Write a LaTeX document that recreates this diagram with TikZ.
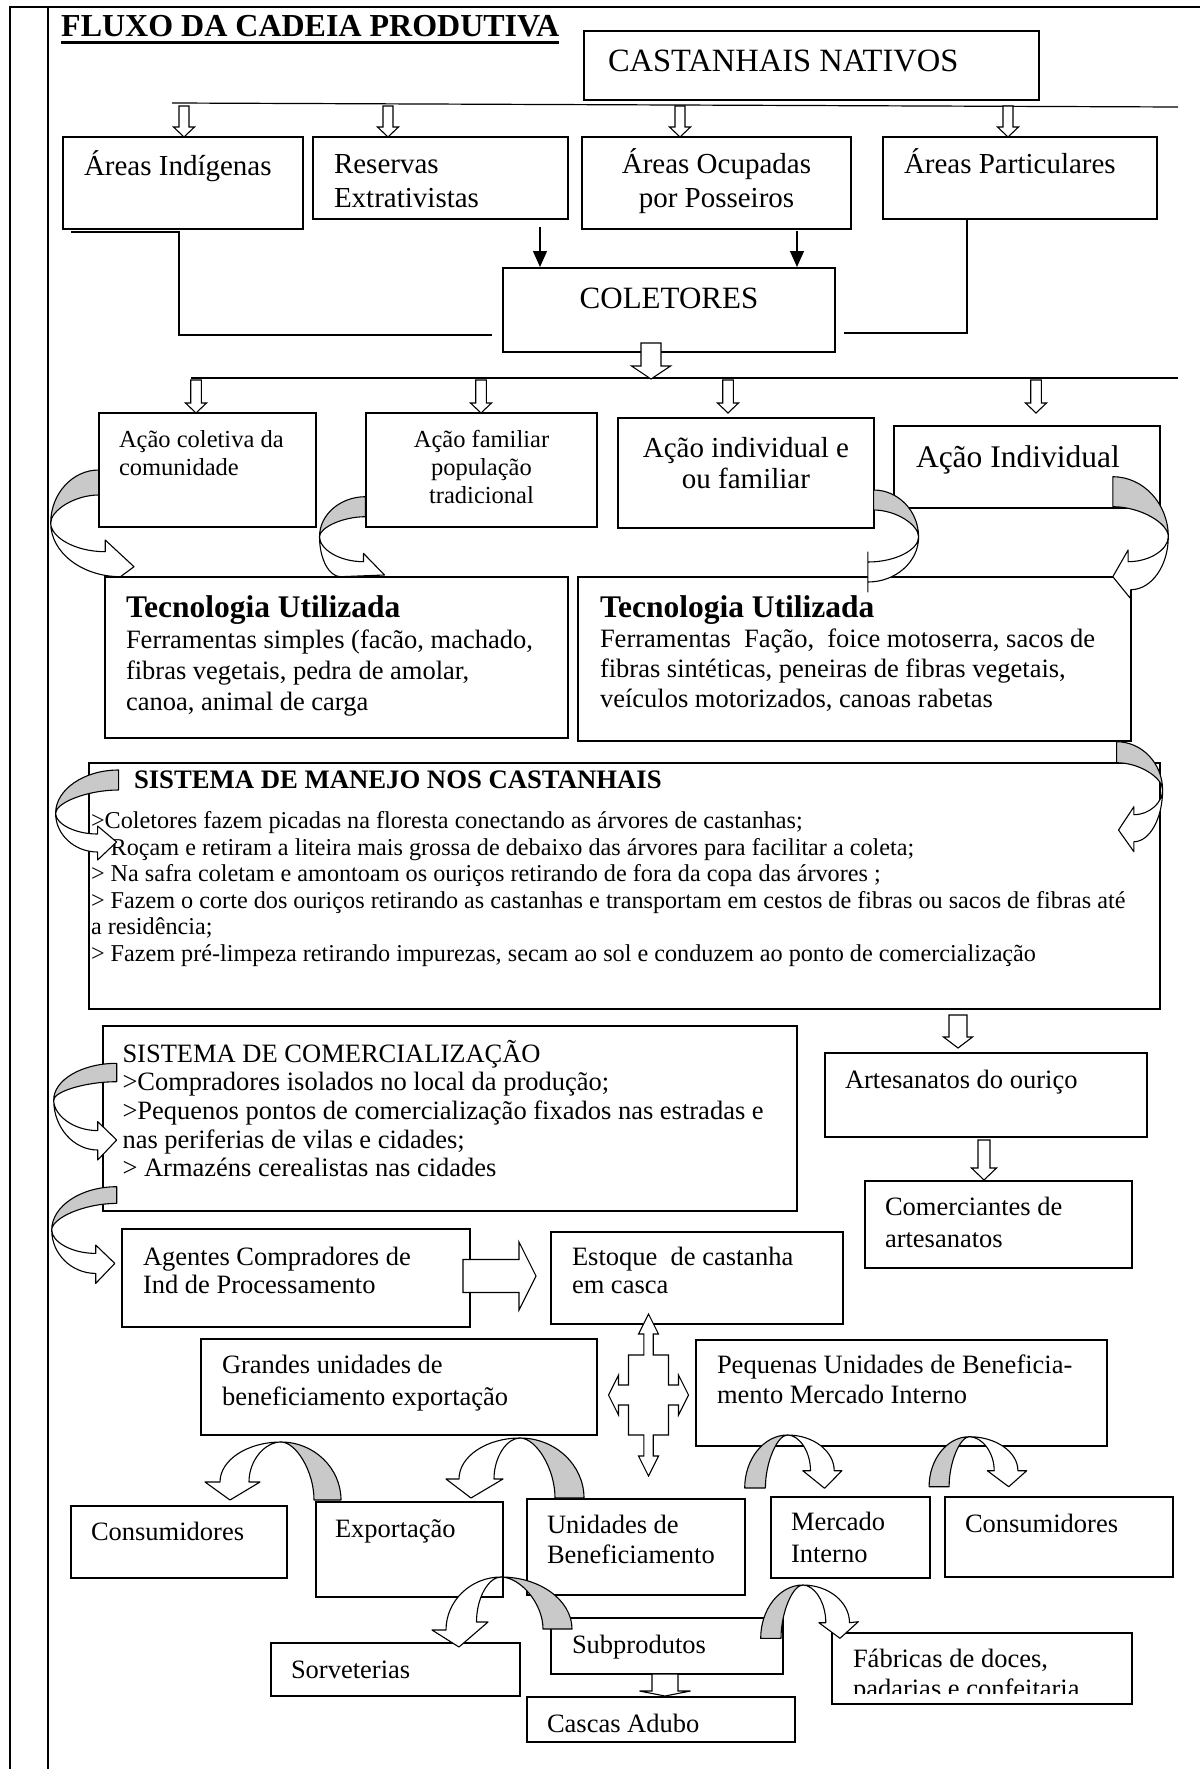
\documentclass[tikz,border=0pt]{standalone}
\usepackage{fontspec}
\setmainfont{Liberation Serif}
\usetikzlibrary{arrows.meta,positioning,calc}
\tikzset{
  cbox/.style={draw, fill=white, line width=1.1pt, inner sep=0pt, outer sep=0pt, anchor=north west},
  big/.style={font=\fontsize{31}{36}\selectfont},
  mid/.style={font=\fontsize{29}{34.5}\selectfont},
  std/.style={font=\fontsize{26.5}{30.5}\selectfont},
  sml/.style={font=\fontsize{24.5}{28}\selectfont},
  conn/.style={line width=1.2pt},
  blk/.style={-{Triangle[length=16pt,width=14pt]}, line width=1.2pt},
  hollow/.style={draw, fill=white, line width=1.1pt, line join=miter},
  curvfront/.style={draw, fill=white, line width=1.1pt, line join=round},
  curvback/.style={draw, fill=gray!42, line width=1.1pt, line join=round},
  tabline/.style={line width=1.8pt}
}

% text in a box: [alignment]{width}{height}{left skip}{first baseline}{text}
\newcommand{\inbox}[6][\raggedright]{%
  \parbox[t][#3][t]{#2}{#1\leftskip=#4\relax\rule{0pt}{#5}#6}}
% hollow block arrow pointing down from (0,0)
\newcommand{\hollowarr}[5][]{%
  \path[hollow,#1] ({-#3},0) -- (#3,0) -- (#3,{#2-#5}) -- (#4,{#2-#5}) -- (0,#2)
    -- ({-#4},{#2-#5}) -- ({-#3},{#2-#5}) -- cycle;}
% curved ribbon arrow: bend point, outer end, inner end, band width, head
\newcommand{\curvearr}[9]{%
  \begin{scope}[#1]
    \path[curvfront] (#2,#3) .. controls +(0,{0.55*((#5)-(#3))}) and +({0.55*((#2)-(#4))},0) .. (#4,#5)
      -- #9 -- (#6,#7) .. controls +({0.55*((#2)-(#6))},0) and +(0,{0.5*((#7)-(#3))}) .. (#2,#3) -- cycle;
    \path[curvback] (0,0) .. controls +({0.55*(#2)},0) and +(0,{-0.55*(#3)}) .. (#2,#3)
      .. controls +(0,{-0.45*((#3)-(#8))}) and +({0.5*(#2)},0) .. (0,#8) -- cycle;
  \end{scope}}
\newcommand{\ulbold}[1]{\setbox0\hbox{#1}\rlap{\rule[-6.8pt]{\wd0}{3pt}}\box0}

\begin{document}
\begin{tikzpicture}[x=1pt,y=-1pt]
  \fill[white] (0,0) rectangle (1200,1769);
  \useasboundingbox (0,0) rectangle (1200,1769);

  % frame
  \draw[tabline] (9.6,1769) -- (9.6,6.7) -- (1200,6.7);
  \draw[tabline] (47.8,6.7) -- (47.8,1769);

  \node[anchor=base west, inner sep=0pt, font=\fontsize{32}{38}\selectfont\bfseries] (title)
    at (61,37) {\ulbold{FLUXO DA CADEIA PRODUTIVA}};

  % top part
  \node[cbox, font=\fontsize{32.5}{36}\selectfont] (castanhais) at (584,31)
    {\inbox{455pt}{69pt}{24pt}{40pt}{CASTANHAIS NATIVOS}};
  \node[cbox, mid] (indig) at (63,137)
    {\inbox{240pt}{92pt}{21pt}{38pt}{Áreas Indígenas}};
  \node[cbox, mid] (reservas) at (313,137)
    {\inbox{255pt}{82pt}{21pt}{36pt}{Reservas\\Extrativistas}};
  \node[cbox, mid] (ocupadas) at (582,137)
    {\inbox[\centering]{269pt}{92pt}{0pt plus 1fil}{36pt}{Áreas Ocupadas\\por Posseiros}};
  \node[cbox, mid] (particulares) at (883,137)
    {\inbox{274pt}{82pt}{21pt}{36pt}{Áreas Particulares}};
  \node[cbox, big] (coletores) at (503,268)
    {\inbox[\centering]{332pt}{84pt}{0pt plus 1fil}{40pt}{COLETORES}};

  \node[cbox, sml] (coletiva) at (99,413)
    {\inbox{217pt}{114pt}{20pt}{34pt}{Ação coletiva da\\comunidade}};
  \node[cbox, sml] (familiar) at (366,413)
    {\inbox[\centering]{231pt}{114pt}{0pt plus 1fil}{34pt}{Ação familiar\\população\\tradicional}};
  \node[cbox, font=\fontsize{29}{31}\selectfont] (indfam) at (618,418)
    {\inbox[\centering]{256pt}{110pt}{0pt plus 1fil}{39pt}{Ação individual e\\ou familiar}};
  \node[cbox, font=\fontsize{31.5}{36}\selectfont] (individual) at (894,426)
    {\inbox{266pt}{82pt}{22pt}{41pt}{Ação Individual}};

  \node[cbox, font=\fontsize{26.5}{31}\selectfont] (tecL) at (105,577)
    {\inbox{463pt}{161pt}{21pt}{40pt}{{\fontsize{31.5}{31}\selectfont\bfseries Tecnologia Utilizada}\\
     Ferramentas simples (facão, machado,\\fibras vegetais, pedra de amolar,\\canoa, animal de carga}};
  \node[cbox, font=\fontsize{26.5}{30}\selectfont] (tecR) at (578,577)
    {\inbox{553pt}{164pt}{22pt}{40pt}{{\fontsize{31.5}{31}\selectfont\bfseries Tecnologia Utilizada}\\
     Ferramentas\ \ Fação,\ \ foice motoserra, sacos de\\fibras sintéticas, peneiras de fibras vegetais,\\veículos motorizados, canoas rabetas}};

  \node[cbox, font=\fontsize{24.2}{26.5}\selectfont] (manejo) at (89,763)
    {\inbox{1071pt}{246pt}{2pt}{25pt}{{\fontsize{26.7}{26.7}\selectfont\bfseries\hspace*{43pt}SISTEMA DE MANEJO NOS CASTANHAIS}\\[14pt]
     >Coletores fazem picadas na floresta conectando as árvores de castanhas;\\
     \hspace*{6pt}>Roçam e retiram a liteira mais grossa de debaixo das árvores para facilitar a coleta;\\
     > Na safra coletam e amontoam os ouriços retirando de fora da copa das árvores ;\\
     > Fazem o corte dos ouriços retirando as castanhas e transportam em cestos de fibras ou sacos de fibras até\\
     a residência;\\
     > Fazem pré-limpeza retirando impurezas, secam ao sol e conduzem ao ponto de comercialização}};

  % lower part
  \node[cbox, font=\fontsize{26.5}{28.7}\selectfont] (comerc) at (103,1026)
    {\inbox{694pt}{185pt}{19.5pt}{36pt}{SISTEMA DE COMERCIALIZAÇÃO\\
     >Compradores isolados no local da produção;\\
     >Pequenos pontos de comercialização fixados nas estradas e\\
     nas periferias de vilas e cidades;\\
     > Armazéns cerealistas nas cidades}};
  \node[cbox, std] (artes) at (825,1053)
    {\inbox{322pt}{84pt}{20pt}{35pt}{Artesanatos do ouriço}};
  \node[cbox, font=\fontsize{26.5}{32}\selectfont] (comerciantes) at (865,1181)
    {\inbox{267pt}{87pt}{20pt}{34pt}{Comerciantes de\\artesanatos}};
  \node[cbox, font=\fontsize{26.5}{28}\selectfont] (agentes) at (122,1229)
    {\inbox{348pt}{98pt}{21pt}{36pt}{Agentes Compradores de\\Ind de Processamento}};
  \node[cbox, font=\fontsize{26.5}{28}\selectfont] (estoque) at (551,1232)
    {\inbox{292pt}{92pt}{21pt}{33pt}{Estoque\ \ de castanha\\em casca}};
  \node[cbox, font=\fontsize{26.5}{32}\selectfont] (grandes) at (201,1339)
    {\inbox{396pt}{96pt}{21pt}{34pt}{Grandes unidades de\\beneficiamento exportação}};
  \node[cbox, std] (pequenas) at (696,1340)
    {\inbox{411pt}{106pt}{21pt}{33pt}{Pequenas Unidades de Beneficia-\\mento Mercado Interno}};

  \node[cbox, std] (consL) at (71,1506)
    {\inbox{216pt}{72pt}{20pt}{34pt}{Consumidores}};
  \node[cbox, std] (export) at (316,1502)
    {\inbox{187pt}{95pt}{19pt}{35pt}{Exportação}};
  \node[cbox, std] (unidades) at (527,1499)
    {\inbox{218pt}{96pt}{20pt}{34pt}{Unidades de\\Beneficiamento}};
  \node[cbox, font=\fontsize{26.5}{32}\selectfont] (mercado) at (771,1497)
    {\inbox{159pt}{81pt}{20pt}{33pt}{Mercado\\Interno}};
  \node[cbox, std] (consR) at (945,1497)
    {\inbox{228pt}{80pt}{20pt}{35pt}{Consumidores}};
  \node[cbox, std] (sorvet) at (271,1643)
    {\inbox{249pt}{53pt}{20pt}{35pt}{Sorveterias}};
  \node[cbox, std] (subprod) at (551,1618)
    {\inbox{232pt}{56pt}{21pt}{35pt}{Subprodutos}};
  \node[cbox, std] (cascas) at (527,1697)
    {\inbox{268pt}{45pt}{20pt}{35pt}{Cascas Adubo}};
  \begin{scope}
    \clip (832,1633) rectangle (1132,1693);
    \node[cbox, draw=none, std] (fabricas) at (832,1633)
      {\inbox{300pt}{71pt}{21pt}{34pt}{Fábricas de doces,\\padarias e confeitaria}};
  \end{scope}
  \draw[line width=1.1pt] (fabricas.north west) rectangle (fabricas.south east);

  % connectors
  \coordinate (bar1w) at (172,103);
  \coordinate (bar1e) at (1178,107);
  \coordinate (bar2w) at (191,378);
  \coordinate (bar2e) at (1178,378);
  \draw[conn] (bar1w) -- (bar1e);
  \draw[conn] (bar2w) -- (bar2e);
  \draw[conn] ([xshift=8pt,yshift=-3pt]indig.south west) -- ++(108,0)
    |- ([xshift=-11pt,yshift=-25pt]coletores.west);
  \draw[conn] ([xshift=84pt]particulares.south west)
    |- ([xshift=9pt,yshift=-23pt]coletores.east);
  \draw[blk] ($(reservas.south east)+(-28,8)$) -- ($(coletores.north west)+(37,-1)$);
  \draw[blk] ($(ocupadas.south east)+(-54,2)$) -- ($(coletores.north east)+(-38,-1)$);

  \hollowarr[shift={(184,106)}]{31}{5}{10.5}{10}
  \hollowarr[shift={(388,106)}]{31}{5}{10.5}{10}
  \hollowarr[shift={(680,106)}]{31}{5}{10.5}{10}
  \hollowarr[shift={(1008,106)}]{31}{5}{10.5}{10}
  \hollowarr[shift={(651,343)}]{36}{10}{19.5}{13}
  \hollowarr[shift={(196,380)}]{33}{5.3}{10.5}{10}
  \hollowarr[shift={(481,380)}]{33}{5.3}{10.5}{10}
  \hollowarr[shift={(728,380)}]{33}{5.3}{10.5}{10}
  \hollowarr[shift={(1036,380)}]{33}{5.3}{10.5}{10}
  \hollowarr[shift={(958,1015)}]{33}{9}{14.5}{11}
  \hollowarr[shift={(984,1140)}]{40}{6}{12.5}{12}
  \hollowarr[shift={(665,1674)}]{22}{13}{25.5}{5}
  \hollowarr[shift={(463,1276)},rotate=90]{73}{16.5}{34}{17}

  % four-way arrow under the stock box
  \path[hollow, shift={(648.5,1395)}] (0,-81) -- (10,-61) -- (4.7,-61) -- (4.7,-40) -- (20,-40)
    -- (20,-10) -- (30,-10) -- (30,-20) -- (40,0) -- (30,20) -- (30,10) -- (20,10) -- (20,40)
    -- (4.7,40) -- (4.7,61) -- (10,61) -- (0,81) -- (-10,61) -- (-4.7,61) -- (-4.7,40) -- (-20,40)
    -- (-20,10) -- (-30,10) -- (-30,20) -- (-40,0) -- (-30,-20) -- (-30,-10) -- (-20,-10)
    -- (-20,-40) -- (-4.7,-40) -- (-4.7,-61) -- (-10,-61) -- cycle;

  % curved arrows at the sides
  \curvearr{shift={(98.7,470)}}{-48}{53}{21.8}{106.7}{6.5}{81.7}{25}{(35.3,96.7) -- (6.5,70)}
  \curvearr{shift={(365.5,496.7)}}{-46}{40}{-25}{80}{-2}{65}{20}{(19,78.3) -- (-2,56.7)}
  \curvearr{shift={(873.6,490)},xscale=-1}{-45}{47}{5.7}{92}{5.7}{72}{20}{(5.7,102) -- (5.7,62)}
  \curvearr{shift={(1112.8,476.7)},xscale=-1}{-55.5}{60}{-18}{113}{-15.3}{85}{30}{(-17.5,121.6) -- (0,100) -- (-15.3,73.3)}
  \curvearr{shift={(1116.6,741.7)},xscale=-1}{-46}{48.3}{-17.3}{100}{-17.3}{73}{21}{(-17.3,110) -- (-1.9,88.3) -- (-17.3,65)}
  \curvearr{shift={(118.6,770)}}{-63}{43.3}{-21}{82}{-21}{64}{20}{(-21,90) -- (-2,72) -- (-21,56)}
  \curvearr{shift={(116.7,1063.3)}}{-63}{36.7}{-19}{86.7}{-19}{67.3}{18.4}{(-19,96.7) -- (0,76.7) -- (-19,58.3)}
  \curvearr{shift={(116.7,1186.7)}}{-65}{43.3}{-21}{86.7}{-21}{66.7}{16.7}{(-21,96.7) -- (-1.9,76.7) -- (-21,58.3)}

  % curved arrows over the lower boxes
  \curvearr{shift={(341,1500)},rotate=-90}{-58}{60}{-18}{121}{-18}{92}{27}{(-18,136) -- (0,111) -- (-18,81)}
  \curvearr{shift={(584,1498)},rotate=-90}{-60}{64}{-19}{125}{-19}{90}{29}{(-19,138) -- (0,113) -- (-19,81)}
  \curvearr{shift={(572,1629)},rotate=-90}{-52}{71}{1}{126}{-7}{95.5}{29}{(1,140) -- (18,113) -- (-7,84)}
  \curvearr{shift={(744.7,1488)},xscale=-1,rotate=-90}{-53}{42.8}{-17.3}{89.5}{-17.3}{65.8}{20.7}{(-17.3,97.2) -- (0.3,79.9) -- (-17.3,58.1)}
  \curvearr{shift={(929.1,1486.7)},xscale=-1,rotate=-90}{-50}{40.2}{-16}{88.8}{-16}{65.1}{20}{(-16,97.6) -- (0,79.6) -- (-16,58.2)}
  \curvearr{shift={(760.7,1638.3)},xscale=-1,rotate=-90}{-53.3}{42.1}{-15.6}{88.8}{-15.6}{65.1}{20.3}{(-16.6,97.6) -- (0,79.3) -- (-15.6,58.2)}
\end{tikzpicture}
\end{document}
